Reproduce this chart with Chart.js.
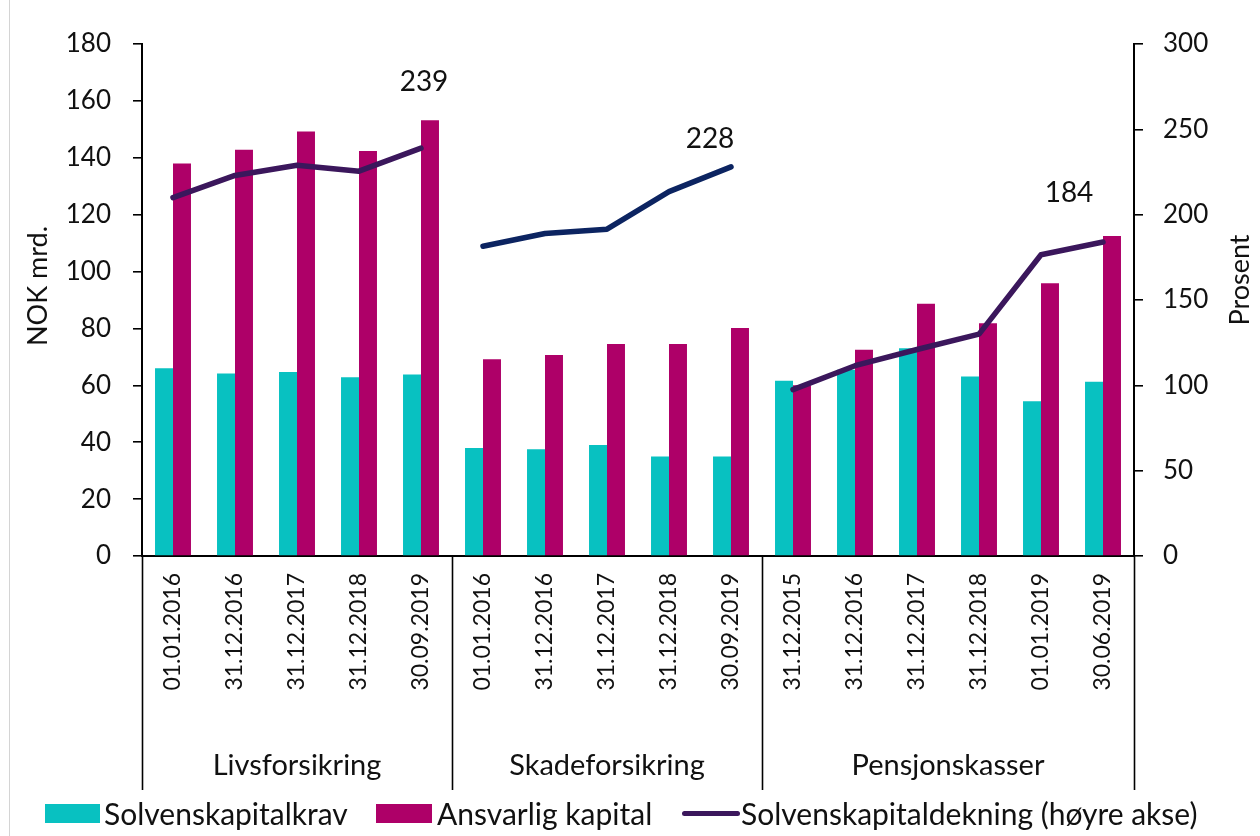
<!DOCTYPE html>
<html>
<head>
<meta charset="utf-8">
<script src="https://cdn.jsdelivr.net/npm/chart.js@4.4.1/dist/chart.umd.min.js"></script>
<style>
  html, body { margin:0; padding:0; background:#fff; }
  #wrap { position:relative; width:1260px; height:836px; overflow:hidden; }
  #frame { position:absolute; left:9px; top:0; width:1px; height:836px; background:#d4d4d4; }
  canvas { position:absolute; left:0; top:0; }
  .lg { position:absolute; font-family:Lato, sans-serif; font-size:30px; color:#111; line-height:32px; top:797px; white-space:nowrap; }
  .box { position:absolute; }
</style>
</head>
<body>
<div id="wrap">
  <div id="frame"></div>
  <canvas id="c" width="1260" height="836"></canvas>
  <div class="box" id="lb1" style="left:45px;top:804px;width:55px;height:19px;"></div>
  <div class="lg" id="lt1" style="left:104px;"></div>
  <div class="box" id="lb2" style="left:376px;top:804px;width:56px;height:19px;"></div>
  <div class="lg" id="lt2" style="left:437px;"></div>
  <div class="box" id="lb3" style="left:682px;top:811px;width:58px;height:5px;border-radius:3px;"></div>
  <div class="lg" id="lt3" style="left:741px;"></div>
</div>
<script>
// ---- data ----
const categories = ['01.01.2016','31.12.2016','31.12.2017','31.12.2018','30.09.2019',
                    '01.01.2016','31.12.2016','31.12.2017','31.12.2018','30.09.2019',
                    '31.12.2015','31.12.2016','31.12.2017','31.12.2018','01.01.2019','30.06.2019'];
const groupNames = ['Livsforsikring','Skadeforsikring','Pensjonskasser'];
const groupSizes = [5, 5, 6];
const solvenskapitalkrav = [66, 64.2, 64.7, 62.8, 63.8, 38, 37.5, 39, 35, 35, 61.6, 65.5, 73, 63.1, 54.4, 61.3];
const ansvarligKapital   = [138, 142.8, 149.2, 142.4, 153.2, 69.2, 70.7, 74.5, 74.5, 80.2, 60, 72.5, 88.7, 81.8, 95.9, 112.5];
const solvenskapitaldekning = [210, 223, 229, 225.5, 239, 181.5, 189, 191.5, 213.5, 228, 97.5, 111.5, 121, 130, 176.5, 184];
const leftTicks = [0, 20, 40, 60, 80, 100, 120, 140, 160, 180];
const rightTicks = [0, 50, 100, 150, 200, 250, 300];
const seriesNames = ['Solvenskapitalkrav', 'Ansvarlig kapital', 'Solvenskapitaldekning (høyre akse)'];
const leftTitle = 'NOK mrd.';
const rightTitle = 'Prosent';

// ---- styles ----
const TEAL = '#08C1C1', MAGENTA = '#AE0068', PURPLE = '#3B175C', NAVY = '#0C2461', TXT = '#111';
const FONT = 'Lato, sans-serif';

// group boundaries
const bounds = [0];
groupSizes.forEach(s => bounds.push(bounds[bounds.length-1] + s));

document.getElementById('lb1').style.background = TEAL;
document.getElementById('lb2').style.background = MAGENTA;
document.getElementById('lb3').style.background = PURPLE;
document.getElementById('lt1').textContent = seriesNames[0];
document.getElementById('lt2').textContent = seriesNames[1];
document.getElementById('lt3').textContent = seriesNames[2];

const labelOffsets = [[3,-66],[-21,-28],[-34,-49]];

const decor = {
  id: 'decor',
  afterDraw(chart) {
    const ctx = chart.ctx;
    const xs = chart.scales.x, ys = chart.scales.y, y1 = chart.scales.y1;
    ctx.save();
    // separators
    ctx.strokeStyle = '#000'; ctx.lineWidth = 1.6;
    bounds.forEach(b => {
      const x = Math.round(xs.getPixelForValue(b - 0.5)) + 0.5;
      ctx.beginPath(); ctx.moveTo(x, xs.top); ctx.lineTo(x, 790); ctx.stroke();
    });
    // group labels
    ctx.fillStyle = TXT; ctx.font = '29px ' + FONT;
    ctx.textAlign = 'center'; ctx.textBaseline = 'middle';
    groupNames.forEach((g, i) => {
      const x0 = xs.getPixelForValue(bounds[i] - 0.5), x1 = xs.getPixelForValue(bounds[i+1] - 0.5);
      ctx.fillText(g, (x0 + x1) / 2, 766);
    });
    // axis titles (both reading bottom-to-top)
    ctx.font = '27px ' + FONT;
    ctx.save(); ctx.translate(38, 286); ctx.rotate(-Math.PI/2); ctx.fillText(leftTitle, 0, 0); ctx.restore();
    ctx.save(); ctx.translate(1240, 280); ctx.rotate(-Math.PI/2); ctx.fillText(rightTitle, 0, 0); ctx.restore();
    // data labels at last point of each group
    ctx.font = '28px ' + FONT;
    groupNames.forEach((g, i) => {
      const idx = bounds[i+1] - 1;
      const v = solvenskapitaldekning[idx];
      const px = xs.getPixelForValue(idx), py = y1.getPixelForValue(v);
      ctx.fillText(String(Math.round(v)), px + labelOffsets[i][0], py + labelOffsets[i][1]);
    });
    ctx.restore();
  }
};

function segColor(ctx) {
  const i = ctx.p0DataIndex;
  if (bounds.includes(i + 1)) return 'rgba(0,0,0,0)';
  return (i >= bounds[1] && i < bounds[2]) ? NAVY : PURPLE;
}

function build() {
  new Chart(document.getElementById('c'), {
    data: {
      labels: categories,
      datasets: [
        { type:'bar', label: seriesNames[0], data: solvenskapitalkrav, backgroundColor: TEAL, yAxisID:'y', order:1,
          categoryPercentage:0.58, barPercentage:1.0 },
        { type:'bar', label: seriesNames[1], data: ansvarligKapital, backgroundColor: MAGENTA, yAxisID:'y', order:1,
          categoryPercentage:0.58, barPercentage:1.0 },
        { type:'line', label: seriesNames[2], data: solvenskapitaldekning, yAxisID:'y1', order:0,
          borderColor: PURPLE, borderWidth:5.5, pointRadius:0, pointHoverRadius:0, tension:0,
          borderCapStyle:'round', borderJoinStyle:'round', fill:false,
          segment: { borderColor: segColor } }
      ]
    },
    options: {
      responsive:false, animation:false, devicePixelRatio:1,
      layout: { padding: { top:44, left:0, right:0, bottom:0 } },
      plugins: { legend:{ display:false }, tooltip:{ enabled:false } },
      scales: {
        x: {
          type:'category', offset:true,
          grid: { display:false, drawTicks:false },
          border: { display:true, color:'#000', width:2 },
          ticks: { color:TXT, font:{ family:FONT, size:23 }, minRotation:90, maxRotation:90, autoSkip:false, padding:17 },
          afterFit(s) { s.height = 280; }
        },
        y: {
          position:'left', min:0, max:180,
          afterBuildTicks(s) { s.ticks = leftTicks.map(v => ({ value:v })); },
          grid: { drawOnChartArea:false, drawTicks:true, tickLength:9, color:'#000', lineWidth:1.6 },
          border: { display:true, color:'#000', width:2 },
          ticks: { color:TXT, font:{ family:FONT, size:26 }, padding:22 },
          afterFit(s) { s.width = 142; }
        },
        y1: {
          position:'right', min:0, max:300,
          afterBuildTicks(s) { s.ticks = rightTicks.map(v => ({ value:v })); },
          grid: { drawOnChartArea:false, drawTicks:true, tickLength:9, color:'#000', lineWidth:1.6 },
          border: { display:true, color:'#000', width:2 },
          ticks: { color:TXT, font:{ family:FONT, size:26 }, padding:20 },
          afterFit(s) { s.width = 126; }
        }
      }
    },
    plugins: [decor]
  });
}
if (document.fonts && document.fonts.load) {
  Promise.all([document.fonts.load('26px Lato'), document.fonts.load('23px Lato'), document.fonts.load('30px Lato')]).then(build, build);
} else { build(); }
</script>
</body>
</html>
